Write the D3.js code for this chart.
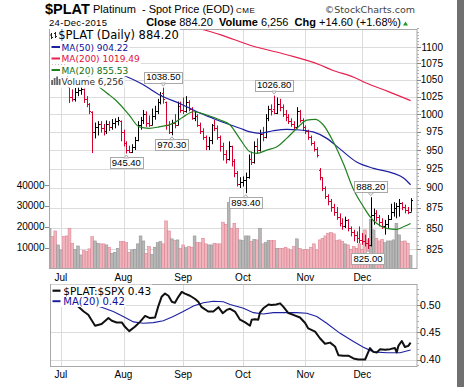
<!DOCTYPE html>
<html><head><meta charset="utf-8">
<script src="https://cdn.jsdelivr.net/npm/d3@7/dist/d3.min.js"></script>
<style>
body{margin:0;background:#fff}
svg{display:block}
text{font-family:"Liberation Sans",Arial,sans-serif}
.v{font-family:"DejaVu Sans",Verdana,sans-serif}
</style>
</head><body>
<svg id="c" width="464" height="387"></svg>
<script>
// ---------- DATA ----------
const months = [
  ["Jun",[25,26,29,30]],
  ["Jul",[1,2,6,7,8,9,10,13,14,15,16,17,20,21,22,23,24,27,28,29,30,31]],
  ["Aug",[3,4,5,6,7,10,11,12,13,14,17,18,19,20,21,24,25,26,27,28,31]],
  ["Sep",[1,2,3,4,8,9,10,11,14,15,16,17,18,21,22,23,24,25,28,29,30]],
  ["Oct",[1,2,5,6,7,8,9,12,13,14,15,16,19,20,21,22,23,26,27,28,29,30]],
  ["Nov",[2,3,4,5,6,9,10,11,12,13,16,17,18,19,20,23,24,25,27,30]],
  ["Dec",[1,2,3,4,7,8,9,10,11,14,15,16,17,18,21,22,23,24]]
];
const opens = [1086,1082,1076,1070,1077,1080,1068,1040,1024,1022,1032,1035,1036,1022,1014,1003,975,982,986,980,976,986,982,988,990,990,975,960,950,948,954,964,984,992,1000,988,985,998,1005,1018,1030,1018,985,975,988,984,1012,1006,1004,1018,1008,995,998,985,976,968,956,964,985,980,968,955,945,938,955,935,920,905,908,910,914,938,934,955,950,972,968,994,1008,1008,1002,1015,1010,1000,996,990,986,982,1004,992,982,976,968,960,952,924,914,900,890,883,876,870,864,856,852,860,850,845,842,838,836,834,832,830,866,868,864,858,853,855,861,870,875,877,881,876,872,870];
const highs = [1090,1086,1080,1080,1086,1084,1072,1042,1036,1038,1040,1040,1037,1026,1016,1004,988,990,990,986,991,990,993,994,996,991,978,962,956,958,968,990,996,1006,1004,998,1008,1012,1022,1032,1038.5,1018,990,992,1000,1018,1018,1024,1026,1020,1010,1004,1000,988,980,970,968,986,992,984,970,960,950,962,956,938,922,914,915,920,944,948,962,966,978,982,1000,1012,1014,1026.8,1024,1022,1014,1006,1000,994,990,1010,1006,994,984,978,970,962,954,926,914,902,892,886,880,876,868,862,864,861,852,848,846,852,844,842,838,888.2,874,872,866,862,860,866,880,882,881,886,882,879,876,887];
const lows = [1078,1072,1066,1066,1072,1064,1046,1016,1018,1018,1026,1028,1016,1010,1000,946,966,970,974,970,972,976,978,980,984,962,955,945.4,946,946,950,962,978,986,982,982,984,992,1000,1014,1015,978,972,970.3,980,984,1002,1000,1002,1004,992,990,982,972,964,950,950,958,976,964,948,936,932,936,928,914,902,900,902,893.4,912,930,932,946,948,962,966,990,998,1000,1000,1004,996,990,986,982,978,980,988,976,972,964,956,948,940,910,896,886,878,870,865,860,852,848,850,846,840,834,832,832,830,828,825,828,854,858,852,849,842,850,860,864,862,864,872,868,867,870];
const closes = [1082,1076,1070,1077,1081,1068,1050,1024,1022,1032,1035,1037,1022,1014,1005,975,982,986,980,976,986,982,988,990,992,975,960,950,948,954,964,984,992,1000,988,985,998,1005,1018,1028,1022,985,975,988,984,1012,1006,1004,1018,1008,995,998,985,976,968,956,964,985,980,968,955,945,938,955,935,920,905,908,910,914,938,934,955,950,972,968,994,1008,1004,1002,1015,1010,1000,996,990,986,982,1004,992,982,976,968,960,952,944,914,900,890,883,876,870,864,856,852,860,850,845,842,838,836,834,832,830,866,868,864,858,853,855,861,870,875,877,881,876,872,869.6,884.2];
const volumes = [19300,15300,18000,11300,8900,15300,15600,19300,12100,9200,10800,6500,8600,8100,9400,15300,13200,12100,11800,11800,11300,10200,7300,7800,9700,12900,12900,12400,7800,8900,9200,11800,15600,13200,7300,10500,6800,10200,12400,12900,11800,22800,18000,14200,13400,13700,9700,11300,10000,10500,10200,15600,12400,12400,14500,11800,11300,11300,12100,11800,11800,22200,21200,31600,19300,21700,19300,13700,13400,15600,15600,12900,14000,13700,19300,11800,12400,13400,13400,13400,9700,9700,9700,10200,9400,8900,10500,14200,9700,8900,9200,8900,10200,11800,8900,13700,14500,15600,16900,17200,16600,13400,13700,12900,11800,11300,9200,10500,9700,11800,9200,18500,13700,23600,18500,14500,13200,14000,12400,13200,13200,13700,21700,16100,12900,13200,12100,6256];
// moving averages: [bar index, value]
const ma50 = [[20,1068],[23,1062],[26,1057],[32,1045],[40,1025],[46,1015],[52,1003],[57.5,994],[62,987],[67,980],[70.5,975],[74,973],[78.6,976.6],[83.4,978.6],[88,977.6],[92.7,975],[97.5,966],[102,952],[108,934],[114,925.6],[121,919],[124.5,913],[127,904.22]];
const ma200 = [[45,1142],[52,1131],[60,1120],[71.7,1101.6],[83.4,1088.4],[95,1073],[99.3,1065],[107,1054],[111.6,1045],[119,1033],[127,1019.49]];
const ma20 = [[12,1062],[15,1050],[17.4,1040],[20,1031],[23.3,1020],[28,998.7],[31.5,982],[35,980],[38.5,982],[43.5,987],[47,996],[50.6,1003.4],[55.3,998.7],[60,991.6],[63.5,984.6],[67,965],[70.5,947.8],[73,945.6],[76.4,950],[80,954.6],[83.4,966],[87,980],[90.5,991.6],[93.4,992.6],[96.3,984.6],[99.8,961.4],[103.3,932.2],[107,897.4],[110.4,876.3],[112.7,864],[115,855.8],[118.6,849.7],[122,848.5],[124.5,851.6],[127,855.53]];
const ratio = [[0,0.528],[4,0.520],[8,0.506],[9.5,0.500],[12,0.488],[13.6,0.482],[16,0.462],[18.3,0.465],[20.7,0.476],[21.9,0.471],[23.6,0.468],[25.4,0.468],[26.5,0.460],[28,0.452],[30,0.460],[31.8,0.469],[33.6,0.480],[35.3,0.476],[37.1,0.477],[38.2,0.497],[39.4,0.515],[40.6,0.521],[41.8,0.517],[43,0.506],[44.1,0.504],[45.3,0.515],[46.5,0.524],[47.6,0.521],[49.4,0.517],[51.2,0.511],[52.3,0.506],[53.5,0.496],[55.8,0.488],[57.6,0.488],[59.4,0.496],[60.9,0.485],[62.3,0.491],[63.5,0.493],[65.2,0.488],[67,0.473],[68.8,0.468],[70.5,0.462],[71.1,0.473],[72.3,0.474],[73.4,0.473],[74,0.486],[75.2,0.494],[77,0.501],[78.1,0.500],[79.7,0.501],[81.1,0.503],[82.2,0.497],[84,0.485],[85.7,0.482],[88.1,0.477],[89.9,0.467],[91,0.457],[93.4,0.451],[95.1,0.439],[96.9,0.429],[98.7,0.431],[100.4,0.424],[101.6,0.408],[103.3,0.407],[105.1,0.407],[106.9,0.402],[108.6,0.400],[111,0.400],[112.7,0.421],[113.9,0.414],[115.1,0.413],[116.3,0.419],[118,0.418],[119.8,0.419],[121.5,0.421],[122.1,0.413],[122.7,0.425],[123.9,0.434],[125,0.423],[126.2,0.425],[127,0.431]];
const ratioMA = [[10,0.507],[14,0.502],[18.3,0.496],[22.4,0.488],[25.9,0.479],[29.5,0.469],[33,0.4665],[36.5,0.4676],[40,0.471],[43.5,0.479],[47,0.488],[50.6,0.498],[54.1,0.504],[57.6,0.507],[61.1,0.506],[63.5,0.501],[68.2,0.494],[71.7,0.486],[75.2,0.4835],[78.7,0.486],[82.2,0.486],[86.9,0.486],[90.5,0.485],[94,0.479],[97.5,0.4665],[102.2,0.448],[106.9,0.433],[110.4,0.4225],[113.9,0.414],[118.6,0.4125],[123.3,0.4125],[127,0.4176]];
const priceTicks = [825,850,875,900,925,950,975,1000,1025,1050,1075,1100];
const volTicks = [10000,20000,30000,40000];
const ratioTicks = [0.40,0.45,0.50];
const annotations = [[40,1038.5,"up"],[27,945.4,"down"],[43,970.3,"down"],[79,1026.8,"up"],[69,893.4,"down"],[113,888.2,"up"],[112,825.0,"down"]];

// ---------- CHART ----------
const dates = months.flatMap(([m,ds]) => ds.map(d => m+" "+d));
const monthStarts = months.slice(1).map(([m,ds]) => ({label:m, date:m+" "+ds[0]}));
const svg = d3.select("#c");
const X0=49, X1=417, T=29.5, B=268;
const LX0=50, LT=284, LB=366;
const x = d3.scalePoint().domain(dates).range([49.6,410.6]);
const xi = i => x(dates[0]) + (x(dates[1])-x(dates[0]))*i;
const y = d3.scaleLog().domain([825,1100]).range([249,47.3]);
const yv = d3.scaleLinear().domain([0,40000]).range([268.5,185]);
const yr = d3.scaleLinear().domain([0.40,0.50]).range([359.5,305]);
const grid = "#dcdcdc", border = "#a8a8a8";
const RED = "#d6002e";
const px = v => Math.round(v)+0.5;

// right frame band
svg.append("rect").attr("x",457).attr("y",0).attr("width",7).attr("height",387).attr("fill","#707070");

// header
const h = svg.append("g");
h.append("text").attr("x",45).attr("y",13.5).attr("font-weight","bold").attr("font-size",14.5).text("$PLAT");
h.append("text").attr("x",93).attr("y",13).attr("font-size",11).attr("xml:space","preserve").text("Platinum  - Spot Price (EOD)");
h.append("text").attr("x",236).attr("y",13).attr("font-size",8).attr("letter-spacing",0.5).text("CME");
h.append("text").attr("class","v").attr("x",415).attr("y",13).attr("text-anchor","end").attr("font-size",9.5).attr("fill","#444").text("\u00a9StockCharts.com");
h.append("text").attr("x",49).attr("y",26).attr("font-size",9.5).attr("letter-spacing",0.3).text("24-Dec-2015");
const cl = h.append("text").attr("x",401).attr("y",26).attr("text-anchor","end").attr("font-size",11).attr("xml:space","preserve");
cl.append("tspan").attr("font-weight","bold").text("Close");
cl.append("tspan").text(" 884.20  ");
cl.append("tspan").attr("font-weight","bold").text("Volume");
cl.append("tspan").text(" 6,256  ");
cl.append("tspan").attr("font-weight","bold").text("Chg");
cl.append("tspan").text(" +14.60 (+1.68%)");
h.append("path").attr("d","M403,25.5L408,25.5L405.5,21.5Z").attr("fill","#1f9a1f");

// defs/clips
const defs = svg.append("defs");
defs.append("clipPath").attr("id","cm").append("rect").attr("x",X0).attr("y",T).attr("width",X1-X0).attr("height",B-T);
defs.append("clipPath").attr("id","cl").append("rect").attr("x",LX0).attr("y",LT).attr("width",X1-LX0).attr("height",LB-LT);

// ---- main panel grid
const gm = svg.append("g");
gm.selectAll(".hg").data(priceTicks).join("line").attr("x1",X0).attr("x2",X1)
  .attr("y1",d=>px(y(d))).attr("y2",d=>px(y(d))).attr("stroke",grid);
gm.selectAll(".vg").data(monthStarts).join("line").attr("x1",d=>px(x(d.date))).attr("x2",d=>px(x(d.date)))
  .attr("y1",T).attr("y2",B).attr("stroke",grid);

const pm = svg.append("g").attr("clip-path","url(#cm)");
// volume
pm.selectAll(".vb").data(volumes).join("rect")
  .attr("x",(d,i)=>x(dates[i])-1.42).attr("width",2.84)
  .attr("y",d=>yv(d)).attr("height",d=>yv(0)-yv(d))
  .attr("fill",(d,i)=> (i>0 && closes[i]<closes[i-1]) ? "#f0b4bd" : "#b7b7b7")
  .attr("stroke",(d,i)=> (i>0 && closes[i]<closes[i-1]) ? "#da7b8a" : "#8d8d8d")
  .attr("stroke-width",0.5);
// MA lines
const lineP = d3.line().x(d=>xi(d[0])).y(d=>y(d[1])).curve(d3.curveMonotoneX);
pm.append("path").attr("d",lineP(ma200)).attr("fill","none").attr("stroke","#e8204e").attr("stroke-width",1.2);
// price bars
const bars = pm.selectAll(".pb").data(closes).join("g")
  .attr("stroke",(d,i)=> (i>0 && closes[i]<closes[i-1]) ? RED : "#000");
bars.append("line").attr("x1",(d,i)=>px(x(dates[i]))).attr("x2",(d,i)=>px(x(dates[i])))
  .attr("y1",(d,i)=>y(highs[i])).attr("y2",(d,i)=>y(lows[i]));
bars.append("line").attr("x1",(d,i)=>px(x(dates[i]))-1.5).attr("x2",(d,i)=>px(x(dates[i])))
  .attr("y1",(d,i)=>px(y(opens[i]))).attr("y2",(d,i)=>px(y(opens[i])));
bars.append("line").attr("x1",(d,i)=>px(x(dates[i]))).attr("x2",(d,i)=>px(x(dates[i]))+1.5)
  .attr("y1",(d,i)=>px(y(closes[i]))).attr("y2",(d,i)=>px(y(closes[i])));
pm.append("path").attr("d",lineP(ma50)).attr("fill","none").attr("stroke","#1c20a0").attr("stroke-width",1.2);
pm.append("path").attr("d",lineP(ma20)).attr("fill","none").attr("stroke","#20821f").attr("stroke-width",1.2);

// border
svg.append("rect").attr("x",X0+0.5).attr("y",T).attr("width",X1-X0-0.5).attr("height",B-T+0.5)
  .attr("fill","none").attr("stroke",border);

// right axis main
const ra = svg.append("g");
ra.selectAll("line.mn").data(d3.range(825,1131,5)).join("line").attr("x1",X1).attr("x2",X1+2)
  .attr("y1",d=>px(y(d))).attr("y2",d=>px(y(d))).attr("stroke","#b0b0b0");
ra.selectAll("line.mj").data(priceTicks).join("line").attr("x1",X1).attr("x2",X1+4)
  .attr("y1",d=>px(y(d))).attr("y2",d=>px(y(d))).attr("stroke","#888");
ra.selectAll("text").data(priceTicks).join("text").attr("x",443).attr("y",d=>y(d)+3.5)
  .attr("text-anchor","end").attr("font-size",10).text(d=>d);
// left volume axis
const la = svg.append("g");
la.selectAll("line").data(volTicks).join("line").attr("x1",45).attr("x2",X0)
  .attr("y1",d=>px(yv(d))).attr("y2",d=>px(yv(d))).attr("stroke","#888");
la.selectAll("text").data(volTicks).join("text").attr("x",44.5).attr("y",d=>yv(d)+3.5)
  .attr("text-anchor","end").attr("font-size",10).text(d=>d);
// month labels
svg.selectAll(".ml").data(monthStarts).join("text").attr("x",d=>x(d.date)).attr("y",280.5)
  .attr("text-anchor","middle").attr("font-size",10).text(d=>d.label);

// annotations
const an = svg.append("g");
annotations.forEach(([i,v,dir])=>{
  const cx = xi(i), cy = y(v);
  const g = an.append("g");
  const t = g.append("text").attr("font-size",9.5).attr("text-anchor","middle").text(v.toFixed(2));
  const w = t.node().getComputedTextLength()+4, hh=11;
  let top = dir==="up" ? cy-5-hh : cy+4;
  g.insert("rect","text").attr("x",px(cx-w/2)).attr("y",px(top)).attr("width",Math.round(w)).attr("height",hh)
   .attr("fill","#fff").attr("stroke","#a8a8a8");
  if(dir==="up") g.insert("path","text").attr("d",`M${cx-2.5},${top+hh+0.5}L${cx+2.5},${top+hh+0.5}L${cx},${cy-1.5}Z`).attr("fill","#fff").attr("stroke","#a8a8a8");
  else g.insert("path","text").attr("d",`M${cx-2.5},${top+0.5}L${cx+2.5},${top+0.5}L${cx},${cy+1.5}Z`).attr("fill","#fff").attr("stroke","#a8a8a8");
  t.attr("x",cx).attr("y",top+hh-2.3);
});

// legend main
const lg = svg.append("g");
function legRow(g, yb, txt, color, size, x0, iconFn){
  const row = g.append("g");
  const t = row.append("text").attr("class","v").attr("x",x0).attr("y",yb).attr("font-size",size).attr("fill",color).text(txt);
  const w = t.node().getComputedTextLength();
  row.insert("rect","text").attr("x",50).attr("y",yb-size+0.5).attr("width",x0+w-50+1).attr("height",size+2.2).attr("fill","#fff");
  if(iconFn) iconFn(row);
}
legRow(lg,39,"$PLAT (Daily) 884.20","#000",11.5,58.3,r=>{
  [[51.5,33,39,34.5,37],[55.5,32,38,33,36]].forEach(([bx,hy,ly,oy,cy2])=>{
    r.append("line").attr("x1",bx).attr("x2",bx).attr("y1",hy).attr("y2",ly).attr("stroke","#222");
    r.append("line").attr("x1",bx-1.5).attr("x2",bx).attr("y1",oy+.5).attr("y2",oy+.5).attr("stroke","#222");
    r.append("line").attr("x1",bx).attr("x2",bx+1.5).attr("y1",cy2+.5).attr("y2",cy2+.5).attr("stroke","#222");
  });
});
const dash = (yy,c)=>r=>r.append("line").attr("x1",51.5).attr("x2",60).attr("y1",yy).attr("y2",yy).attr("stroke",c).attr("stroke-width",2);
legRow(lg,50.5,"MA(50) 904.22","#10109a",9,61.5,dash(47,"#1c20a0"));
legRow(lg,62,"MA(200) 1019.49","#e0103c",9,61.5,dash(58.5,"#e8204e"));
legRow(lg,73.5,"MA(20) 855.53","#107010",9,61.5,dash(70,"#20821f"));
legRow(lg,85,"Volume 6,256","#333",9,61.5,r=>{
  [[52,80,85],[54.5,78,85],[57,76.5,85],[59.5,79,85]].forEach(([bx,ty,by])=>
    r.append("rect").attr("x",bx-0.8).attr("y",ty).attr("width",1.8).attr("height",by-ty).attr("fill","#666"));
});

// ---- lower panel
const gl = svg.append("g");
gl.selectAll(".hg").data(ratioTicks).join("line").attr("x1",LX0).attr("x2",X1)
  .attr("y1",d=>px(yr(d))).attr("y2",d=>px(yr(d))).attr("stroke",grid);
gl.selectAll(".vg").data(monthStarts).join("line").attr("x1",d=>px(x(d.date))).attr("x2",d=>px(x(d.date)))
  .attr("y1",LT).attr("y2",LB).attr("stroke",grid);
const pl = svg.append("g").attr("clip-path","url(#cl)");
const lineR = d3.line().x(d=>xi(d[0])).y(d=>yr(d[1])).curve(d3.curveLinear);
pl.append("path").attr("d",lineR(ratioMA)).attr("fill","none").attr("stroke","#1c20a0").attr("stroke-width",1.1);
pl.append("path").attr("d",lineR(ratio)).attr("fill","none").attr("stroke","#111").attr("stroke-width",2).attr("stroke-linejoin","round");
svg.append("rect").attr("x",LX0+0.5).attr("y",LT+0.5).attr("width",X1-LX0-0.5).attr("height",LB-LT)
  .attr("fill","none").attr("stroke",border);
const rl = svg.append("g");
rl.selectAll("line.mn").data(d3.range(0.39,0.535,0.01)).join("line").attr("x1",X1).attr("x2",X1+2)
  .attr("y1",d=>px(yr(d))).attr("y2",d=>px(yr(d))).attr("stroke","#b0b0b0");
rl.selectAll("line.mj").data(ratioTicks).join("line").attr("x1",X1).attr("x2",X1+4)
  .attr("y1",d=>px(yr(d))).attr("y2",d=>px(yr(d))).attr("stroke","#888");
rl.selectAll("text").data(ratioTicks).join("text").attr("x",440.5).attr("y",d=>yr(d)+3.5)
  .attr("text-anchor","end").attr("font-size",10.5).text(d=>d.toFixed(2));
svg.selectAll(".ml2").data(monthStarts).join("text").attr("x",d=>x(d.date)).attr("y",377.5)
  .attr("text-anchor","middle").attr("font-size",10).text(d=>d.label);
// lower legend
const lg2 = svg.append("g");
function legRow2(yb, txt, color, size, lc, lw){
  const t = lg2.append("text").attr("class","v").attr("x",63.3).attr("y",yb).attr("font-size",size).attr("fill",color).text(txt);
  const w = t.node().getComputedTextLength();
  lg2.insert("rect","text").attr("x",LX0+1).attr("y",yb-size+0.5).attr("width",63.3+w-LX0).attr("height",size+1.5).attr("fill","#fff");
  lg2.append("line").attr("x1",52.5).attr("x2",60.5).attr("y1",yb-3.8).attr("y2",yb-3.8).attr("stroke",lc).attr("stroke-width",lw);
}
legRow2(294.5,"$PLAT:$SPX 0.43","#000",10.5,"#111",2.2);
legRow2(305,"MA(20) 0.42","#10109a",10,"#1c20a0",2);
</script>
</body></html>
